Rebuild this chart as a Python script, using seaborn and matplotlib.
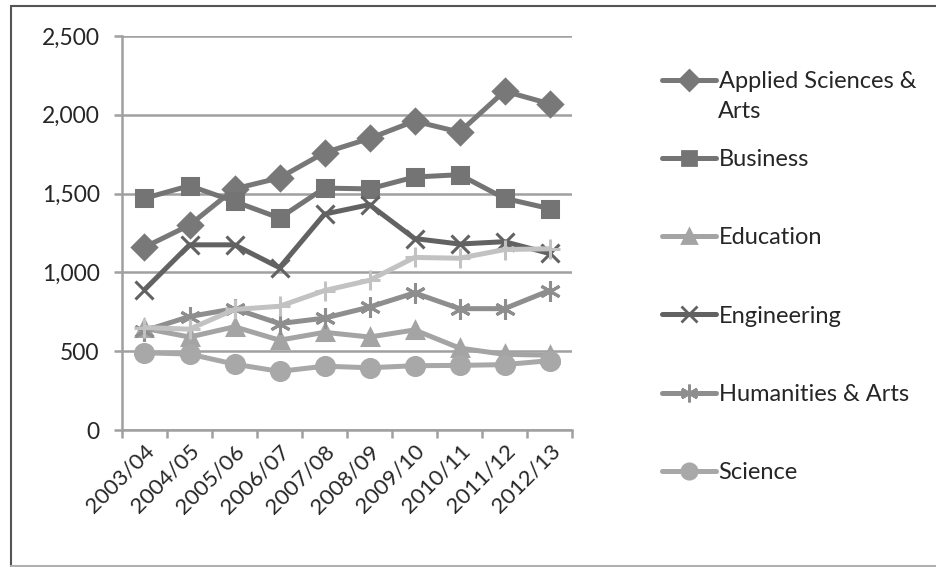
import numpy as np
import pandas as pd
import seaborn as sns
import matplotlib.pyplot as plt
from matplotlib.lines import Line2D

years = ["2003/04", "2004/05", "2005/06", "2006/07", "2007/08",
         "2008/09", "2009/10", "2010/11", "2011/12", "2012/13"]

applied = [1160, 1300, 1530, 1600, 1760, 1850, 1960, 1890, 2150, 2070]
business = [1470, 1550, 1450, 1345, 1535, 1530, 1605, 1620, 1470, 1405]
education = [645, 590, 655, 570, 620, 590, 635, 520, 480, 475]
engineering = [890, 1175, 1175, 1030, 1370, 1430, 1215, 1180, 1195, 1120]
humanities = [630, 720, 770, 675, 710, 780, 870, 770, 770, 885]
science = [490, 482, 418, 372, 405, 395, 408, 410, 415, 440]
other = [650, 640, 765, 785, 885, 950, 1095, 1090, 1145, 1150]

names = ["Applied Sciences & Arts", "Business", "Education", "Engineering",
         "Humanities & Arts", "Science", "Other"]
values = [applied, business, education, engineering, humanities, science, other]

colors = ["#787878", "#747474", "#a4a4a4", "#626262", "#8e8e8e", "#a8a8a8", "#c2c2c2"]
markers = ["D", "s", "^", "x", (6, 2, 0), "o", "+"]
msizes = [12, 12, 12, 13, 15, 13, 15]

sns.set_theme(style="white")
plt.rcParams["font.family"] = ["Lato", "DejaVu Sans"]

fig = plt.figure(figsize=(9.37, 5.67), dpi=100)
ax = fig.add_axes([0.1302, 0.2416, 0.4803, 0.6949])

x = np.arange(len(years))
for i, (name, vals) in enumerate(zip(names, values)):
    df = pd.DataFrame({"x": x, "v": vals})
    sns.lineplot(data=df, x="x", y="v", ax=ax, color=colors[i], lw=3.6,
                 marker=markers[i], ms=msizes[i], mec=colors[i], mew=2.2,
                 mfc=colors[i], zorder=3 + i, legend=False)

ax.set_xlim(-0.5, 9.5)
ax.set_ylim(0, 2500)
ax.set_yticks(np.arange(0, 2501, 500))
ax.set_yticklabels([f"{v:,}" for v in range(0, 2501, 500)])
ax.set_xticks(x)
ax.set_xticklabels(years, rotation=45, ha="right", rotation_mode="anchor")
ax.set_xticks(np.arange(-0.5, 10, 1), minor=True)
ax.set_xlabel("")
ax.set_ylabel("")

ax.grid(axis="y", color="#a0a0a0", lw=1.8, zorder=1)
ax.set_axisbelow(True)
for s in ["top", "right"]:
    ax.spines[s].set_visible(False)
for s in ["left", "bottom"]:
    ax.spines[s].set_color("#a0a0a0")
    ax.spines[s].set_linewidth(1.8)

ax.tick_params(axis="y", which="major", length=6, width=1.8, color="#a0a0a0",
               labelsize=16.5, labelcolor="#262626", pad=10, left=True)
ax.tick_params(axis="x", which="major", length=0, labelsize=16,
               labelcolor="#262626", pad=8)
ax.tick_params(axis="x", which="minor", length=6, width=1.8, color="#a0a0a0",
               bottom=True)

handles = []
for i in range(6):
    handles.append(Line2D([], [], color=colors[i], lw=3.6, marker=markers[i],
                          ms=msizes[i] * 0.85, mec=colors[i], mew=2, mfc=colors[i]))
labels = ["Applied Sciences &", "Business", "Education", "Engineering",
          "Humanities & Arts", "Science"]
leg = ax.legend(handles, labels, loc="upper left", bbox_to_anchor=(0.7065, 0.8744),
                bbox_transform=fig.transFigure, frameon=False, fontsize=17,
                handlelength=2.3, handletextpad=0.1, labelspacing=2.42,
                borderpad=0, borderaxespad=0)
for t in leg.get_texts():
    t.set_color("#262626")
fig.text(0.7665, 1 - 111 / 567, "Arts", va="center", ha="left", fontsize=17,
         color="#262626")

fig.add_artist(Line2D([0.012, 0.012], [0.002, 0.99], color="#555555", lw=1.5,
                      transform=fig.transFigure))
fig.add_artist(Line2D([0.012, 1.0], [0.99, 0.99], color="#555555", lw=1.5,
                      transform=fig.transFigure))
fig.add_artist(Line2D([0.012, 1.0], [0.002, 0.002], color="#b0b0b0", lw=1.5,
                      transform=fig.transFigure))

fig.savefig("out.png", dpi=100)
